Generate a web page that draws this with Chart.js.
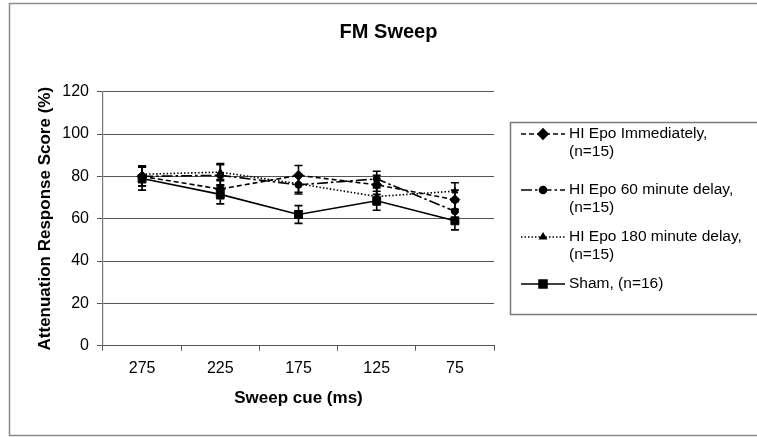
<!DOCTYPE html>
<html>
<head>
<meta charset="utf-8">
<script src="https://cdn.jsdelivr.net/npm/chart.js@4/dist/chart.umd.min.js"></script>
<style>
html,body{margin:0;padding:0;background:#fff;}
#wrap{position:relative;width:757px;height:437px;}
</style>
</head>
<body>
<div id="wrap"><canvas id="c" width="757" height="437"></canvas></div>
<script>
// ---- data ----
const categories = ['275', '225', '175', '125', '75'];
const yTicks = [0, 20, 40, 60, 80, 100, 120];

const seriesNames = [
  ['HI Epo Immediately,', '(n=15)'],
  ['HI Epo 60 minute delay,', '(n=15)'],
  ['HI Epo 180 minute delay,', '(n=15)'],
  ['Sham, (n=16)']
];

const epoImmediate = [80, 74, 80.5, 76, 69];
const epoImmediateErr = [4.5, 4.5, 4.6, 4.5, 4.5];

const epo60 = [80, 80.5, 76, 78.8, 63.5];
const epo60Err = [4.5, 5, 4.3, 3.6, 4.5];

const epo180 = [81, 82, 76.5, 70.5, 73];
const epo180Err = [4, 4, 4, 4, 4];

const sham = [79, 71.5, 62, 68.5, 59];
const shamErr = [5.5, 4.5, 4.2, 4.5, 4.3];

// ---- styles ----
const FONT = "'Liberation Sans', Arial, sans-serif";
const styles = [
  {dash: [5, 3], pointStyle: 'rectRot', radius: 5},
  {dash: [11, 3, 2.5, 3], pointStyle: 'circle', radius: 3.5},
  {dash: [1.5, 2], pointStyle: 'triangle', radius: 3.5},
  {dash: [], pointStyle: 'rect', radius: 5.6}
];
const values = [epoImmediate, epo60, epo180, sham];
const errors = [epoImmediateErr, epo60Err, epo180Err, shamErr];

const datasets = values.map((v, i) => ({
  label: seriesNames[i].join(' '),
  data: v,
  errors: errors[i],
  borderColor: '#000',
  backgroundColor: '#000',
  borderWidth: 1.6,
  borderDash: styles[i].dash,
  pointStyle: styles[i].pointStyle,
  pointRadius: styles[i].radius,
  pointBorderWidth: 1,
  pointBackgroundColor: '#000',
  pointBorderColor: '#000',
  tension: 0,
  fill: false
}));

const errorBarPlugin = {
  id: 'errorBars',
  afterDatasetsDraw(chart) {
    const ctx = chart.ctx;
    const y = chart.scales.y;
    ctx.save();
    ctx.strokeStyle = '#000';
    ctx.lineWidth = 1.6;
    ctx.setLineDash([]);
    chart.data.datasets.forEach((ds, di) => {
      const meta = chart.getDatasetMeta(di);
      meta.data.forEach((pt, j) => {
        const v = ds.data[j], e = ds.errors[j];
        const top = y.getPixelForValue(v + e);
        const bot = y.getPixelForValue(v - e);
        const x = pt.x;
        ctx.beginPath();
        ctx.moveTo(x, top); ctx.lineTo(x, bot);
        ctx.moveTo(x - 4, top); ctx.lineTo(x + 4, top);
        ctx.moveTo(x - 4, bot); ctx.lineTo(x + 4, bot);
        ctx.stroke();
      });
    });
    ctx.restore();
  }
};

const frameLegendPlugin = {
  id: 'frameLegend',
  afterDraw(chart) {
    const ctx = chart.ctx;
    ctx.save();
    // outer frame
    ctx.strokeStyle = '#8a8a8a';
    ctx.lineWidth = 1.5;
    ctx.setLineDash([]);
    ctx.strokeRect(9.5, 3.5, 760, 432);
    // legend box
    ctx.strokeStyle = '#7a7a7a';
    ctx.lineWidth = 1.5;
    ctx.strokeRect(510.5, 122.5, 260, 192);
    const rows = [134, 190, 237, 284];
    ctx.font = '15.5px ' + FONT;
    ctx.fillStyle = '#000';
    ctx.textBaseline = 'middle';
    chart.data.datasets.forEach((ds, i) => {
      const yy = rows[i];
      ctx.strokeStyle = '#000';
      ctx.lineWidth = 1.6;
      ctx.setLineDash(ds.borderDash);
      ctx.beginPath();
      ctx.moveTo(521, yy); ctx.lineTo(565, yy);
      ctx.stroke();
      ctx.setLineDash([]);
      Chart.helpers.drawPoint(ctx, {
        pointStyle: ds.pointStyle,
        radius: ds.pointRadius,
        rotation: 0,
        borderWidth: 1
      }, 543, yy);
      ctx.fillStyle = '#000';
      ctx.fill();
      seriesNames[i].forEach((t, k) => {
        ctx.fillText(t, 569, yy + k * 17.5);
      });
    });
    ctx.restore();
  }
};

new Chart(document.getElementById('c'), {
  type: 'line',
  data: {labels: categories, datasets},
  options: {
    responsive: false,
    animation: false,
    devicePixelRatio: 1,
    layout: {padding: {left: 20, right: 0, top: 0, bottom: 0}},
    plugins: {
      legend: {display: false},
      tooltip: {enabled: false},
      title: {
        display: true,
        text: 'FM Sweep',
        color: '#000',
        font: {family: FONT, size: 20, weight: 'bold'},
        padding: {top: 20, bottom: 47.7}
      }
    },
    scales: {
      x: {
        type: 'category',
        offset: true,
        grid: {display: true, drawOnChartArea: false, offset: true, tickLength: 5, color: '#555', lineWidth: 1},
        border: {display: true, color: '#555', width: 1},
        ticks: {color: '#000', font: {family: FONT, size: 16}, padding: 8, maxRotation: 0},
        title: {display: true, text: 'Sweep cue (ms)', color: '#000', font: {family: FONT, size: 17, weight: 'bold'}, padding: {top: 0, bottom: 28}},
        afterFit(s) { s.height = 91.3; }
      },
      y: {
        min: 0, max: 120,
        afterBuildTicks(s) { s.ticks = yTicks.map(v => ({value: v})); },
        grid: {color: '#555', lineWidth: 1, tickLength: 6},
        border: {display: true, color: '#777', width: 1.2},
        ticks: {color: '#000', font: {family: FONT, size: 16}, padding: 8},
        title: {display: true, text: 'Attenuation Response Score (%)', color: '#000', font: {family: FONT, size: 17, weight: 'bold'}, padding: {top: 15, bottom: 0}},
        afterFit(s) { s.width = 83; }
      },
      yR: {
        position: 'right',
        display: true,
        grid: {display: false, drawTicks: false},
        border: {display: false},
        ticks: {display: false},
        afterFit(s) { s.width = 263; }
      }
    }
  },
  plugins: [errorBarPlugin, frameLegendPlugin]
});
</script>
</body>
</html>
